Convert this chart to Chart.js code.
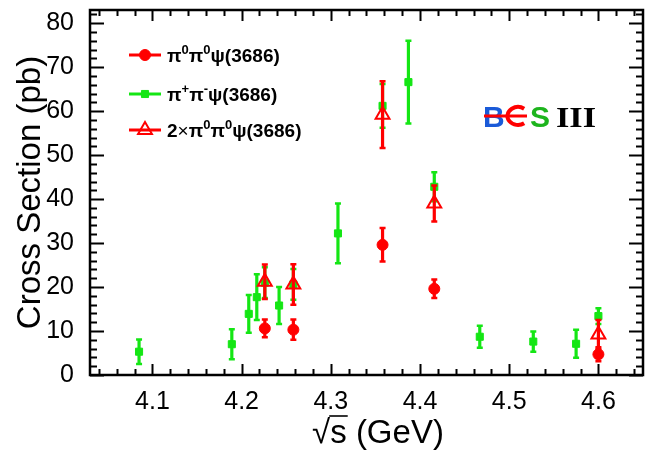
<!DOCTYPE html>
<html>
<head>
<meta charset="utf-8">
<script src="https://cdn.jsdelivr.net/npm/chart.js@4.4.1/dist/chart.umd.min.js"></script>
<style>
  html, body { margin: 0; padding: 0; background: #fff; }
  #xsec { display: block; }
</style>
</head>
<body>
<canvas id="xsec" width="653" height="453"></canvas>
<script>
// sqrt(s) in GeV, cross sections and errors in pb
const energyPi0 = [4.226, 4.258, 4.358, 4.416, 4.600];
const xsecPi0 = [10.6, 10.3, 29.6, 19.6, 4.7];
const errPi0 = [2.0, 2.3, 3.8, 2.1, 1.6];

const energyPipi = [4.085, 4.189, 4.208, 4.217, 4.226, 4.242, 4.258, 4.308, 4.358, 4.387, 4.416, 4.467, 4.527, 4.575, 4.600];
const xsecPipi = [5.3, 7.0, 13.9, 17.7, 21.0, 15.8, 20.6, 32.2, 61.2, 66.6, 42.8, 8.7, 7.6, 7.1, 13.4];
const errPipi = [2.8, 3.4, 4.3, 5.2, 3.5, 4.2, 3.5, 6.8, 5.0, 9.4, 3.3, 2.5, 2.3, 3.2, 1.8];

const energyTwoPi0 = [4.226, 4.258, 4.358, 4.416, 4.600];
const xsecTwoPi0 = [21.2, 20.6, 59.2, 39.0, 9.2];
const errTwoPi0 = [3.9, 4.6, 7.6, 4.1, 3.3];

const xTicks = [4.1, 4.2, 4.3, 4.4, 4.5, 4.6];
const yTicks = [0, 10, 20, 30, 40, 50, 60, 70, 80];

// legend text pieces: b = bold, n = normal, s = superscript
const legendEntries = [
    [['π', 'b'], ['0', 's'], ['π', 'b'], ['0', 's'], ['ψ(3686)', 'b']],
    [['π', 'b'], ['+', 's'], ['π', 'b'], ['-', 's'], ['ψ(3686)', 'b']],
    [['2', 'b'], ['×', 'n'], ['π', 'b'], ['0', 's'], ['π', 'b'], ['0', 's'], ['ψ(3686)', 'b']]
];

const FONT = '"Liberation Sans", Arial, Helvetica, sans-serif';
const RED = '#ff0000';
const GREEN = '#14e614';

function points(xs, ys) {
    return xs.map((x, i) => ({ x: x, y: ys[i] }));
}

// vertical error bars drawn right before each dataset's markers
const errorBars = {
    id: 'errorBars',
    beforeDatasetDraw(chart, args) {
        const ds = chart.data.datasets[args.index];
        const y = chart.scales.y;
        const ctx = chart.ctx;
        ctx.save();
        ctx.strokeStyle = ds.borderColor;
        ds.errors.forEach((e, i) => {
            const px = args.meta.data[i].x;
            const top = y.getPixelForValue(ds.data[i].y + e);
            const bot = y.getPixelForValue(ds.data[i].y - e);
            ctx.lineWidth = 3.2;
            ctx.beginPath();
            ctx.moveTo(px, top);
            ctx.lineTo(px, bot);
            ctx.stroke();
            ctx.lineWidth = 2.5;
            ctx.beginPath();
            ctx.moveTo(px - 3, top); ctx.lineTo(px + 3, top);
            ctx.moveTo(px - 3, bot); ctx.lineTo(px + 3, bot);
            ctx.stroke();
        });
        ctx.restore();
    }
};

// ROOT style frame with ticks pointing inwards on all four sides
const rootFrame = {
    id: 'rootFrame',
    afterDatasetsDraw(chart) {
        const { ctx, chartArea: a, scales } = chart;
        const x = scales.x, y = scales.y;
        ctx.save();
        ctx.strokeStyle = '#000';
        ctx.lineWidth = 2;
        ctx.beginPath();
        for (let k = Math.ceil(x.min / 0.02 - 1e-6); k * 0.02 <= x.max + 1e-9; k++) {
            const v = k * 0.02;
            const major = Math.abs(v * 10 - Math.round(v * 10)) < 1e-6;
            const px = Math.round(x.getPixelForValue(v)) + 0.5;
            const len = major ? 11 : 6;
            ctx.moveTo(px, a.bottom); ctx.lineTo(px, a.bottom - len);
            ctx.moveTo(px, a.top); ctx.lineTo(px, a.top + len);
        }
        for (let k = 0; k * 2 <= y.max; k++) {
            const major = k % 5 === 0;
            const py = Math.round(y.getPixelForValue(k * 2)) + 0.5;
            const len = major ? 14 : 7;
            ctx.moveTo(a.left, py); ctx.lineTo(a.left + len, py);
            ctx.moveTo(a.right, py); ctx.lineTo(a.right - len, py);
        }
        ctx.stroke();
        ctx.lineWidth = 2.5;
        ctx.strokeRect(a.left, a.top, a.right - a.left, a.bottom - a.top);
        ctx.restore();
    }
};

function drawRich(ctx, x, y, parts) {
    parts.forEach(([t, kind]) => {
        let dy = 0;
        ctx.font = 'bold 19px ' + FONT;
        if (kind === 'n') ctx.font = '19px ' + FONT;
        if (kind === 's') { ctx.font = 'bold 13px ' + FONT; dy = -8; }
        ctx.fillText(t, x, y + dy);
        x += ctx.measureText(t).width;
    });
}

const decorations = {
    id: 'decorations',
    afterDraw(chart) {
        const ctx = chart.ctx;
        ctx.save();
        ctx.fillStyle = '#000';
        ctx.textAlign = 'left';
        ctx.textBaseline = 'alphabetic';

        // legend
        const rows = [55, 94, 130];
        chart.data.datasets.forEach((ds, i) => {
            const cy = rows[i];
            ctx.strokeStyle = ds.borderColor;
            ctx.lineWidth = 3;
            ctx.beginPath();
            ctx.moveTo(129, cy); ctx.lineTo(161, cy);
            ctx.stroke();
            ctx.fillStyle = ds.backgroundColor;
            ctx.lineWidth = ds.borderWidth;
            Chart.helpers.drawPoint(ctx, {
                pointStyle: ds.pointStyle, radius: ds.pointRadius,
                rotation: 0, borderWidth: ds.borderWidth
            }, 145, cy);
            ctx.fillStyle = '#000';
            drawRich(ctx, 167, cy + 7, legendEntries[i]);
        });

        // axis titles
        const a = chart.chartArea;
        ctx.font = '33px ' + FONT;
        ctx.save();
        ctx.translate(40, (a.top + a.bottom) / 2);
        ctx.rotate(-Math.PI / 2);
        ctx.textAlign = 'center';
        ctx.fillText('Cross Section (pb)', 0, 0);
        ctx.restore();

        const rest = 's (GeV)';
        const wRad = ctx.measureText('√').width;
        const wRest = ctx.measureText(rest).width;
        const wS = ctx.measureText('s').width;
        const x0 = 378 - (wRad + wRest) / 2;
        const base = 443;
        ctx.fillText('√', x0, base);
        ctx.fillText(rest, x0 + wRad, base);
        ctx.lineWidth = 1.6;
        ctx.strokeStyle = '#000';
        ctx.beginPath();
        ctx.moveTo(x0 + wRad - 1, base - 27);
        ctx.lineTo(x0 + wRad + wS + 1, base - 27);
        ctx.stroke();

        // BESIII logo
        ctx.font = 'bold 30px ' + FONT;
        ctx.fillStyle = '#1a5ad8';
        ctx.fillText('B', 483, 127);
        ctx.strokeStyle = RED;
        ctx.lineWidth = 4;
        ctx.beginPath();
        ctx.ellipse(518, 116, 10.5, 9, 0, 0.3 * Math.PI, 1.7 * Math.PI, false);
        ctx.stroke();
        ctx.lineWidth = 3.2;
        ctx.beginPath();
        ctx.moveTo(484, 116); ctx.lineTo(527, 116);
        ctx.stroke();
        ctx.fillStyle = '#1db41d';
        ctx.fillText('S', 530, 127);
        ctx.fillStyle = '#000';
        ctx.font = 'bold 30px "Liberation Serif", "Times New Roman", serif';
        const wIII = ctx.measureText('III').width;
        ctx.save();
        ctx.translate(556, 127);
        ctx.scale(40 / wIII, 1);
        ctx.fillText('III', 0, 0);
        ctx.restore();

        ctx.restore();
    }
};

const tickFont = { family: FONT, size: 25 };

new Chart(document.getElementById('xsec'), {
    type: 'scatter',
    data: {
        datasets: [{
            label: 'pi0 pi0 psi(3686)',
            data: points(energyPi0, xsecPi0),
            errors: errPi0,
            pointStyle: 'circle',
            pointRadius: 5.5,
            backgroundColor: RED,
            borderColor: RED,
            borderWidth: 1,
            order: 2
        }, {
            label: 'pi+ pi- psi(3686)',
            data: points(energyPipi, xsecPipi),
            errors: errPipi,
            pointStyle: 'rect',
            pointRadius: 5,
            backgroundColor: GREEN,
            borderColor: GREEN,
            borderWidth: 1,
            order: 3
        }, {
            label: '2 x pi0 pi0 psi(3686)',
            data: points(energyTwoPi0, xsecTwoPi0),
            errors: errTwoPi0,
            pointStyle: 'triangle',
            pointRadius: 8,
            backgroundColor: 'rgba(255,255,255,0)',
            borderColor: RED,
            borderWidth: 2,
            order: 1
        }]
    },
    options: {
        responsive: false,
        animation: false,
        devicePixelRatio: 1,
        events: [],
        layout: { padding: { top: 10, right: 5, left: 0, bottom: 0 } },
        plugins: {
            legend: { display: false },
            tooltip: { enabled: false }
        },
        scales: {
            x: {
                type: 'linear',
                min: 4.03,
                max: 4.65,
                grid: { display: false },
                border: { display: false },
                afterBuildTicks: s => { s.ticks = xTicks.map(v => ({ value: v })); },
                afterFit: s => { s.height = 78; s.paddingLeft = 0; s.paddingRight = 0; },
                ticks: {
                    font: tickFont, color: '#000', padding: 4,
                    maxRotation: 0, autoSkip: false,
                    callback: v => v.toFixed(1)
                }
            },
            y: {
                type: 'linear',
                min: 0,
                max: 83,
                grid: { display: false },
                border: { display: false },
                afterBuildTicks: s => { s.ticks = yTicks.map(v => ({ value: v })); },
                afterFit: s => { s.width = 90; s.paddingTop = 0; s.paddingBottom = 0; },
                ticks: {
                    font: tickFont, color: '#000', padding: 8,
                    autoSkip: false,
                    callback: v => String(v)
                }
            }
        }
    },
    plugins: [errorBars, rootFrame, decorations]
});
</script>
</body>
</html>
